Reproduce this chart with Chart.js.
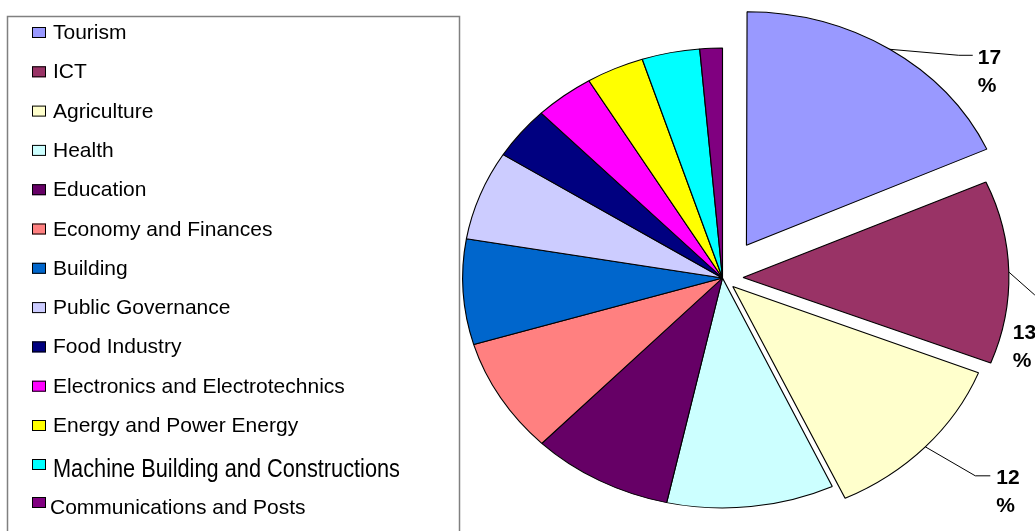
<!DOCTYPE html>
<html>
<head>
<meta charset="utf-8">
<script src="https://cdn.jsdelivr.net/npm/chart.js@4"></script>
<style>
  body { margin: 0; background: #fff; }
  canvas { display: block; }
</style>
</head>
<body>
<canvas id="chart" width="1035" height="531"></canvas>
<script>
var SECTORS = [
    'Tourism',
    'ICT',
    'Agriculture',
    'Health',
    'Education',
    'Economy and Finances',
    'Building',
    'Public Governance',
    'Food Industry',
    'Electronics and Electrotechnics',
    'Energy and Power Energy',
    'Machine Building and Constructions',
    'Communications and Posts'
];

// share of participants, %
var SHARES = [18.3, 12.7, 12.1, 10.4, 8.8, 8.1, 7.4, 6.3, 3.7, 3.7, 3.6, 3.6, 1.4];

// the value labels as printed on the chart
var PRINTED = ['17', '13', '12'];

var COLORS = [
    '#9999FF', '#993366', '#FFFFCC', '#CCFFFF', '#660066', '#FF8080', '#0066CC',
    '#CCCCFF', '#000080', '#FF00FF', '#FFFF00', '#00FFFF', '#800080'
];

// the original picture is stretched horizontally
var STRETCH = 1.13;

//Funzione: stretch the pie into an ellipse
var ellipsePlugin = {
    id: 'ellipse',
    beforeDatasetsDraw: function (chart) {
        var arc = chart.getDatasetMeta(0).data[0];
        var ctx = chart.ctx;
        ctx.save();
        ctx.translate(arc.x, arc.y);
        ctx.scale(STRETCH, 1);
        ctx.translate(-arc.x, -arc.y);
    },
    afterDatasetsDraw: function (chart) {
        chart.ctx.restore();
    }
};

// rim point of a slice at its mid angle, after offset and stretch
function rimPoint(arc) {
    var p = arc.getProps(['x', 'y', 'startAngle', 'endAngle', 'outerRadius', 'circumference']);
    var mid = (p.startAngle + p.endAngle) / 2;
    var off = (arc.options.offset || 0) / 4;
    var fix = 1 - Math.sin(Math.min(Math.PI, p.circumference || 0));
    var t = off + off * fix;
    var ux = p.x + Math.cos(mid) * (t + p.outerRadius);
    var uy = p.y + Math.sin(mid) * (t + p.outerRadius);
    return { x: p.x + (ux - p.x) * STRETCH, y: uy };
}

var valueLabelPlugin = {
    id: 'valueLabels',
    afterDatasetsDraw: function (chart, args, opts) {
        var ctx = chart.ctx;
        var meta = chart.getDatasetMeta(0);
        ctx.save();
        ctx.strokeStyle = '#000';
        ctx.lineWidth = 1;
        ctx.fillStyle = '#000';
        ctx.font = 'bold 21px "Liberation Sans", Arial, sans-serif';
        ctx.textBaseline = 'middle';
        ctx.textAlign = 'left';
        PRINTED.forEach(function (txt, i) {
            var r = rimPoint(meta.data[i]);
            var l = opts.place[i];
            ctx.beginPath();
            ctx.moveTo(r.x, r.y);
            ctx.lineTo(r.x + l.ex, r.y + l.ey);
            if (l.tail) ctx.lineTo(r.x + l.ex + l.tail, r.y + l.ey);
            ctx.stroke();
            ctx.fillText(txt, r.x + l.tx, r.y + l.ty);
            ctx.fillText('%', r.x + l.tx, r.y + l.ty + 28);
        });
        ctx.restore();
    }
};

var boxLegendPlugin = {
    id: 'boxLegend',
    afterDraw: function (chart, args, o) {
        var ctx = chart.ctx;
        var ds = chart.data.datasets[0];
        ctx.save();
        ctx.strokeStyle = '#808080';
        ctx.lineWidth = 1.5;
        ctx.strokeRect(7.5, 16.5, 452, 540);
        ctx.textBaseline = 'alphabetic';
        chart.data.labels.forEach(function (label, i) {
            var s = o.special[i] || {};
            var base = o.top + i * o.step + (s.dy || 0);
            var boxTop = base + (s.box !== undefined ? s.box : -12);
            ctx.fillStyle = ds.backgroundColor[i];
            ctx.fillRect(32, boxTop, 14, 11);
            ctx.strokeStyle = '#000';
            ctx.lineWidth = 1;
            ctx.strokeRect(32.5, boxTop + 0.5, 13, 10);
            ctx.fillStyle = '#000';
            ctx.font = (s.size || 21) + 'px "Liberation Sans", Arial, sans-serif';
            var tx = s.tx || 53;
            if (s.fit) {
                var w = ctx.measureText(label).width;
                ctx.save();
                ctx.translate(tx, base);
                ctx.scale(s.fit / w, 1);
                ctx.fillText(label, 0, 0);
                ctx.restore();
            } else {
                ctx.fillText(label, tx, base);
            }
        });
        ctx.restore();
    }
};

var myChart = new Chart(document.getElementById('chart'), {
    type: 'pie',
    data: {
        labels: SECTORS,
        datasets: [{
            data: SHARES,
            backgroundColor: COLORS,
            borderColor: '#000',
            borderWidth: 1,
            offset: [156, 73, 50, 0, 0, 0, 0, 0, 0, 0, 0, 0, 0]
        }]
    },
    options: {
        responsive: false,
        devicePixelRatio: 1,
        animation: false,
        radius: 230,
        layout: { padding: { left: 470, right: 60, top: 26, bottom: 1 } },
        plugins: {
            legend: { display: false },
            tooltip: { enabled: false },
            valueLabels: {
                place: {
                    0: { ex: 69, ey: 6, tail: 14, tx: 88, ty: 9 },
                    1: { ex: 26, ey: 23, tail: 0, tx: 4, ty: 61 },
                    2: { ex: 50, ey: 29, tail: 15, tx: 71, ty: 31 }
                }
            },
            boxLegend: {
                top: 39,
                step: 39.3,
                special: {
                    11: { dy: 5.7, box: -18, size: 25, fit: 347 },
                    12: { dy: 3.4, box: -17, tx: 50 }
                }
            }
        }
    },
    plugins: [ellipsePlugin, valueLabelPlugin, boxLegendPlugin]
});
</script>
</body>
</html>
